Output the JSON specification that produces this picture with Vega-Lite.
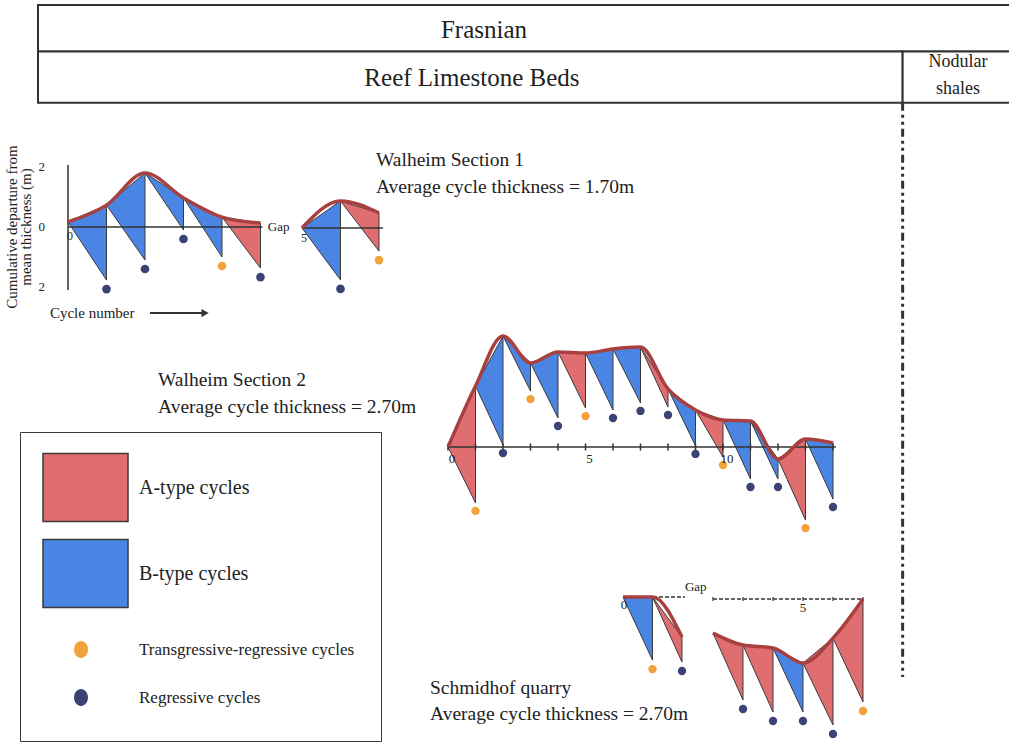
{
  "$schema": "https://vega.github.io/schema/vega-lite/v6.json",
  "width": 1009,
  "height": 745,
  "autosize": "none",
  "padding": 0,
  "background": "white",
  "config": {
    "view": {"stroke": null},
    "font": "Liberation Serif",
    "text": {"font": "Liberation Serif", "color": "#222"}
  },
  "datasets": {
    "header": [
      {"unit": "Frasnian", "label": "Frasnian", "x0": 0, "x1": 100, "y0": 0, "y1": 1, "lx": 45.65, "ly": 0.54},
      {"unit": "Reef Limestone Beds", "label": "Reef Limestone Beds", "x0": 0, "x1": 88.5, "y0": 1, "y1": 2.1, "lx": 44.42, "ly": 1.57},
      {"unit": "Nodular shales", "label": "Nodular\nshales", "x0": 88.5, "x1": 100, "y0": 1, "y1": 2.1, "lx": 94.17, "ly": 1.226}
    ],
    "boundary": [{"x": 88.5, "y0": 2.1, "y1": 14.45}],
    "tri": [
      {"sec": "W1a", "id": "W1a-1", "c": 0, "hi": 0.17, "lo": 0.17, "kind": "B-type cycles"},
      {"sec": "W1a", "id": "W1a-1", "c": 1, "hi": 0.73, "lo": -1.77, "kind": "B-type cycles"},
      {"sec": "W1a", "id": "W1a-2", "c": 1, "hi": 0.73, "lo": 0.73, "kind": "B-type cycles"},
      {"sec": "W1a", "id": "W1a-2", "c": 2, "hi": 1.8, "lo": -1.1, "kind": "B-type cycles"},
      {"sec": "W1a", "id": "W1a-3", "c": 2, "hi": 1.8, "lo": 1.8, "kind": "B-type cycles"},
      {"sec": "W1a", "id": "W1a-3", "c": 3, "hi": 0.97, "lo": -0.1, "kind": "B-type cycles"},
      {"sec": "W1a", "id": "W1a-4", "c": 3, "hi": 0.97, "lo": 0.97, "kind": "B-type cycles"},
      {"sec": "W1a", "id": "W1a-4", "c": 4, "hi": 0.33, "lo": -1.0, "kind": "B-type cycles"},
      {"sec": "W1a", "id": "W1a-5", "c": 4, "hi": 0.33, "lo": 0.33, "kind": "A-type cycles"},
      {"sec": "W1a", "id": "W1a-5", "c": 5, "hi": 0.13, "lo": -1.37, "kind": "A-type cycles"},
      {"sec": "W1b", "id": "W1b-6", "c": 5, "hi": 0, "lo": 0, "kind": "B-type cycles"},
      {"sec": "W1b", "id": "W1b-6", "c": 6, "hi": 0.9, "lo": -1.73, "kind": "B-type cycles"},
      {"sec": "W1b", "id": "W1b-7", "c": 6, "hi": 0.9, "lo": 0.9, "kind": "A-type cycles"},
      {"sec": "W1b", "id": "W1b-7", "c": 7, "hi": 0.5, "lo": -0.77, "kind": "A-type cycles"},
      {"sec": "W2", "id": "W2-1", "c": 0, "hi": 0, "lo": 0, "kind": "A-type cycles"},
      {"sec": "W2", "id": "W2-1", "c": 1, "hi": 2.84, "lo": -2.6, "kind": "A-type cycles"},
      {"sec": "W2", "id": "W2-2", "c": 1, "hi": 2.84, "lo": 2.84, "kind": "B-type cycles"},
      {"sec": "W2", "id": "W2-2", "c": 2, "hi": 5.16, "lo": 0.09, "kind": "B-type cycles"},
      {"sec": "W2", "id": "W2-3", "c": 2, "hi": 5.16, "lo": 5.16, "kind": "B-type cycles"},
      {"sec": "W2", "id": "W2-3", "c": 3, "hi": 3.91, "lo": 2.6, "kind": "B-type cycles"},
      {"sec": "W2", "id": "W2-4", "c": 3, "hi": 3.91, "lo": 3.91, "kind": "B-type cycles"},
      {"sec": "W2", "id": "W2-4", "c": 4, "hi": 4.42, "lo": 1.35, "kind": "B-type cycles"},
      {"sec": "W2", "id": "W2-5", "c": 4, "hi": 4.42, "lo": 4.42, "kind": "A-type cycles"},
      {"sec": "W2", "id": "W2-5", "c": 5, "hi": 4.37, "lo": 1.81, "kind": "A-type cycles"},
      {"sec": "W2", "id": "W2-6", "c": 5, "hi": 4.37, "lo": 4.37, "kind": "B-type cycles"},
      {"sec": "W2", "id": "W2-6", "c": 6, "hi": 4.56, "lo": 1.72, "kind": "B-type cycles"},
      {"sec": "W2", "id": "W2-7", "c": 6, "hi": 4.56, "lo": 4.56, "kind": "B-type cycles"},
      {"sec": "W2", "id": "W2-7", "c": 7, "hi": 4.65, "lo": 2.05, "kind": "B-type cycles"},
      {"sec": "W2", "id": "W2-8", "c": 7, "hi": 4.65, "lo": 4.65, "kind": "A-type cycles"},
      {"sec": "W2", "id": "W2-8", "c": 8, "hi": 2.7, "lo": 1.86, "kind": "A-type cycles"},
      {"sec": "W2", "id": "W2-9", "c": 8, "hi": 2.7, "lo": 2.7, "kind": "B-type cycles"},
      {"sec": "W2", "id": "W2-9", "c": 9, "hi": 1.72, "lo": 0.05, "kind": "B-type cycles"},
      {"sec": "W2", "id": "W2-10", "c": 9, "hi": 1.72, "lo": 1.72, "kind": "A-type cycles"},
      {"sec": "W2", "id": "W2-10", "c": 10, "hi": 1.26, "lo": -0.47, "kind": "A-type cycles"},
      {"sec": "W2", "id": "W2-11", "c": 10, "hi": 1.26, "lo": 1.26, "kind": "B-type cycles"},
      {"sec": "W2", "id": "W2-11", "c": 11, "hi": 1.21, "lo": -1.49, "kind": "B-type cycles"},
      {"sec": "W2", "id": "W2-12", "c": 11, "hi": 1.21, "lo": 1.21, "kind": "B-type cycles"},
      {"sec": "W2", "id": "W2-12", "c": 12, "hi": -0.56, "lo": -1.49, "kind": "B-type cycles"},
      {"sec": "W2", "id": "W2-13", "c": 12, "hi": -0.56, "lo": -0.56, "kind": "A-type cycles"},
      {"sec": "W2", "id": "W2-13", "c": 13, "hi": 0.37, "lo": -3.4, "kind": "A-type cycles"},
      {"sec": "W2", "id": "W2-14", "c": 13, "hi": 0.37, "lo": 0.37, "kind": "B-type cycles"},
      {"sec": "W2", "id": "W2-14", "c": 14, "hi": 0.19, "lo": -2.42, "kind": "B-type cycles"},
      {"sec": "S3a", "id": "S3a-1", "c": 0, "hi": 0, "lo": 0, "kind": "B-type cycles"},
      {"sec": "S3a", "id": "S3a-1", "c": 1, "hi": 0, "lo": -2.63, "kind": "B-type cycles"},
      {"sec": "S3a", "id": "S3a-2", "c": 1, "hi": 0, "lo": 0, "kind": "A-type cycles"},
      {"sec": "S3a", "id": "S3a-2", "c": 2, "hi": -1.67, "lo": -2.71, "kind": "A-type cycles"},
      {"sec": "S3b", "id": "S3b-3", "c": 2, "hi": -1.42, "lo": -1.42, "kind": "A-type cycles"},
      {"sec": "S3b", "id": "S3b-3", "c": 3, "hi": -1.92, "lo": -4.21, "kind": "A-type cycles"},
      {"sec": "S3b", "id": "S3b-4", "c": 3, "hi": -1.92, "lo": -1.92, "kind": "A-type cycles"},
      {"sec": "S3b", "id": "S3b-4", "c": 4, "hi": -2.04, "lo": -4.71, "kind": "A-type cycles"},
      {"sec": "S3b", "id": "S3b-5", "c": 4, "hi": -2.04, "lo": -2.04, "kind": "B-type cycles"},
      {"sec": "S3b", "id": "S3b-5", "c": 5, "hi": -2.67, "lo": -4.71, "kind": "B-type cycles"},
      {"sec": "S3b", "id": "S3b-6", "c": 5, "hi": -2.67, "lo": -2.67, "kind": "A-type cycles"},
      {"sec": "S3b", "id": "S3b-6", "c": 6, "hi": -1.63, "lo": -5.25, "kind": "A-type cycles"},
      {"sec": "S3b", "id": "S3b-7", "c": 6, "hi": -1.63, "lo": -1.63, "kind": "A-type cycles"},
      {"sec": "S3b", "id": "S3b-7", "c": 7, "hi": 0, "lo": -4.29, "kind": "A-type cycles"}
    ],
    "tops": [
      {"sec": "W1a", "c": 0, "top": 0.17}, {"sec": "W1a", "c": 1, "top": 0.73}, {"sec": "W1a", "c": 2, "top": 1.8},
      {"sec": "W1a", "c": 3, "top": 0.97}, {"sec": "W1a", "c": 4, "top": 0.33}, {"sec": "W1a", "c": 5, "top": 0.13},
      {"sec": "W1b", "c": 5, "top": 0}, {"sec": "W1b", "c": 6, "top": 0.9}, {"sec": "W1b", "c": 7, "top": 0.5},
      {"sec": "W2", "c": 0, "top": 0}, {"sec": "W2", "c": 1, "top": 2.84}, {"sec": "W2", "c": 2, "top": 5.16},
      {"sec": "W2", "c": 3, "top": 3.91}, {"sec": "W2", "c": 4, "top": 4.42}, {"sec": "W2", "c": 5, "top": 4.37},
      {"sec": "W2", "c": 6, "top": 4.56}, {"sec": "W2", "c": 7, "top": 4.65}, {"sec": "W2", "c": 8, "top": 2.7},
      {"sec": "W2", "c": 9, "top": 1.72}, {"sec": "W2", "c": 10, "top": 1.26}, {"sec": "W2", "c": 11, "top": 1.21},
      {"sec": "W2", "c": 12, "top": -0.56}, {"sec": "W2", "c": 13, "top": 0.37}, {"sec": "W2", "c": 14, "top": 0.19},
      {"sec": "S3a", "c": 0, "top": 0}, {"sec": "S3a", "c": 1, "top": 0}, {"sec": "S3a", "c": 2, "top": -1.67},
      {"sec": "S3b", "c": 2, "top": -1.42}, {"sec": "S3b", "c": 3, "top": -1.92}, {"sec": "S3b", "c": 4, "top": -2.04},
      {"sec": "S3b", "c": 5, "top": -2.67}, {"sec": "S3b", "c": 6, "top": -1.63}, {"sec": "S3b", "c": 7, "top": 0}
    ],
    "dots": [
      {"sec": "W1a", "c": 1, "bottom": -1.77, "kind": "Regressive cycles"},
      {"sec": "W1a", "c": 2, "bottom": -1.1, "kind": "Regressive cycles"},
      {"sec": "W1a", "c": 3, "bottom": -0.1, "kind": "Regressive cycles"},
      {"sec": "W1a", "c": 4, "bottom": -1.0, "kind": "Transgressive-regressive cycles"},
      {"sec": "W1a", "c": 5, "bottom": -1.37, "kind": "Regressive cycles"},
      {"sec": "W1b", "c": 6, "bottom": -1.73, "kind": "Regressive cycles"},
      {"sec": "W1b", "c": 7, "bottom": -0.77, "kind": "Transgressive-regressive cycles"},
      {"sec": "W2", "c": 1, "bottom": -2.6, "kind": "Transgressive-regressive cycles"},
      {"sec": "W2", "c": 2, "bottom": 0.09, "kind": "Regressive cycles"},
      {"sec": "W2", "c": 3, "bottom": 2.6, "kind": "Transgressive-regressive cycles"},
      {"sec": "W2", "c": 4, "bottom": 1.35, "kind": "Regressive cycles"},
      {"sec": "W2", "c": 5, "bottom": 1.81, "kind": "Transgressive-regressive cycles"},
      {"sec": "W2", "c": 6, "bottom": 1.72, "kind": "Regressive cycles"},
      {"sec": "W2", "c": 7, "bottom": 2.05, "kind": "Regressive cycles"},
      {"sec": "W2", "c": 8, "bottom": 1.86, "kind": "Regressive cycles"},
      {"sec": "W2", "c": 9, "bottom": 0.05, "kind": "Regressive cycles"},
      {"sec": "W2", "c": 10, "bottom": -0.47, "kind": "Transgressive-regressive cycles"},
      {"sec": "W2", "c": 11, "bottom": -1.49, "kind": "Regressive cycles"},
      {"sec": "W2", "c": 12, "bottom": -1.49, "kind": "Regressive cycles"},
      {"sec": "W2", "c": 13, "bottom": -3.4, "kind": "Transgressive-regressive cycles"},
      {"sec": "W2", "c": 14, "bottom": -2.42, "kind": "Regressive cycles"},
      {"sec": "S3a", "c": 1, "bottom": -2.63, "kind": "Transgressive-regressive cycles"},
      {"sec": "S3a", "c": 2, "bottom": -2.71, "kind": "Regressive cycles"},
      {"sec": "S3b", "c": 3, "bottom": -4.21, "kind": "Regressive cycles"},
      {"sec": "S3b", "c": 4, "bottom": -4.71, "kind": "Regressive cycles"},
      {"sec": "S3b", "c": 5, "bottom": -4.71, "kind": "Regressive cycles"},
      {"sec": "S3b", "c": 6, "bottom": -5.25, "kind": "Regressive cycles"},
      {"sec": "S3b", "c": 7, "bottom": -4.29, "kind": "Transgressive-regressive cycles"}
    ],
    "axlines": [
      {"sec": "W1a", "c": 0, "c2": 5.05, "m": 0, "m2": 0},
      {"sec": "W1a", "c": 0, "c2": 0, "m": -2.1, "m2": 2.07},
      {"sec": "W1b", "c": 5, "c2": 7.1, "m": 0, "m2": 0},
      {"sec": "W2", "c": 0, "c2": 14.1, "m": 0, "m2": 0},
      {"sec": "S3a", "c": 0, "c2": 2.1, "m": 0, "m2": 0},
      {"sec": "S3b", "c": 2, "c2": 7, "m": 0, "m2": 0}
    ],
    "ticklabels": [
      {"sec": "W1a", "c": 0, "m": 0, "label": "0"},
      {"sec": "W1b", "c": 5, "m": 0, "label": "5"},
      {"sec": "W2", "c": 0, "m": 0, "label": "0"},
      {"sec": "W2", "c": 5, "m": 0, "label": "5"},
      {"sec": "W2", "c": 10, "m": 0, "label": "10"},
      {"sec": "S3a", "c": 0, "m": 0, "label": "0"},
      {"sec": "S3b", "c": 5, "m": 0, "label": "5"}
    ],
    "notes": [
      {"sec": "W1a", "role": "title", "c": 8.0, "m": 2.233, "label": "Walheim Section 1"},
      {"sec": "W1a", "role": "title", "c": 8.0, "m": 1.333, "label": "Average cycle thickness = 1.70m"},
      {"sec": "W1a", "role": "gap", "c": 5.19, "m": 0, "label": "Gap"},
      {"sec": "W1a", "role": "tick", "c": -0.766, "m": 2, "label": "2"},
      {"sec": "W1a", "role": "tick", "c": -0.766, "m": 0, "label": "0"},
      {"sec": "W1a", "role": "tick", "c": -0.766, "m": -2, "label": "2"},
      {"sec": "W1a", "role": "axis", "c": -0.47, "m": -2.87, "label": "Cycle number"},
      {"sec": "W1a", "role": "ytitle", "c": -1.455, "m": 0, "label": "Cumulative departure from\nmean thickness (m)"},
      {"sec": "W2", "role": "title", "c": -10.545, "m": 3.116, "label": "Walheim Section 2"},
      {"sec": "W2", "role": "title", "c": -10.545, "m": 1.86, "label": "Average cycle thickness = 2.70m"},
      {"sec": "S3a", "role": "gap", "c": 2.1, "m": 0.42, "label": "Gap"},
      {"sec": "S3b", "role": "title", "c": -7.433, "m": -3.708, "label": "Schmidhof quarry"},
      {"sec": "S3b", "role": "title", "c": -7.433, "m": -4.792, "label": "Average cycle thickness = 2.70m"}
    ],
    "arrow": [{"sec": "W1a", "c": 2.13, "c2": 3.56, "m": -2.87}]
  },
  "layer": [
    {
      "layer": [
        {
          "data": {"name": "header"},
          "mark": {"type": "rect", "fill": "white", "stroke": "#333", "strokeWidth": 2},
          "encoding": {
            "x": {"field": "x0", "type": "quantitative", "scale": {"domain": [-3.889, 99.386], "nice": false, "zero": false}, "axis": null},
            "x2": {"field": "x1"},
            "y": {"field": "y0", "type": "quantitative", "scale": {"domain": [-0.1075, 15.914], "reverse": true, "nice": false, "zero": false}, "axis": null},
            "y2": {"field": "y1"}
          }
        },
        {
          "data": {"name": "header"},
          "mark": {"type": "text", "lineBreak": "\n", "lineHeight": 27, "baseline": "middle", "align": "center", "color": "#222"},
          "encoding": {
            "x": {"field": "lx", "type": "quantitative", "scale": {"domain": [-3.889, 99.386], "nice": false, "zero": false}, "axis": null},
            "y": {"field": "ly", "type": "quantitative", "scale": {"domain": [-0.1075, 15.914], "reverse": true, "nice": false, "zero": false}, "axis": null},
            "text": {"field": "label"},
            "size": {"condition": {"test": "datum.unit == 'Nodular shales'", "value": 18}, "value": 25}
          }
        },
        {
          "data": {"name": "boundary"},
          "mark": {"type": "rule", "color": "#333", "strokeWidth": 3, "strokeDash": [8, 4, 3, 4, 3, 4]},
          "encoding": {
            "x": {"field": "x", "type": "quantitative", "scale": {"domain": [-3.889, 99.386], "nice": false, "zero": false}, "axis": null},
            "y": {"field": "y0", "type": "quantitative", "scale": {"domain": [-0.1075, 15.914], "reverse": true, "nice": false, "zero": false}, "axis": null},
            "y2": {"field": "y1"}
          }
        }
      ]
    },
    {
      "layer": [
        {
          "data": {"name": "tri"},
          "transform": [{"filter": "datum.sec == 'W1a'"}],
          "mark": {"type": "area", "opacity": 1},
          "encoding": {
            "x": {"field": "c", "type": "quantitative", "scale": {"domain": [-1.766, 24.442], "nice": false, "zero": false}, "axis": null},
            "y": {"field": "hi", "type": "quantitative", "scale": {"domain": [-17.267, 7.567], "nice": false, "zero": false}, "axis": null},
            "y2": {"field": "lo"},
            "detail": {"field": "id"},
            "color": {
              "field": "kind", "type": "nominal",
              "scale": {"domain": ["A-type cycles", "B-type cycles", "Transgressive-regressive cycles", "Regressive cycles"], "range": ["#e06e70", "#4a85e4", "#f2a23a", "#3b4274"]},
              "legend": {
                "title": null, "orient": "none", "legendX": 20, "legendY": 432, "direction": "vertical",
                "padding": 22, "rowPadding": 2, "symbolSize": 4225, "labelOffset": 30, "labelLimit": 400,
                "labelFont": "Liberation Serif", "labelColor": "#222",
                "labelFontSize": {"expr": "datum.value == 'A-type cycles' || datum.value == 'B-type cycles' ? 20 : 17"},
                "strokeColor": "#3a3a3a", "fillColor": "white",
                "symbolType": {"expr": "datum.value == 'A-type cycles' ? 'M-1,-1.046H1.6154V1.046H-1ZM0,1.338' : datum.value == 'B-type cycles' ? 'M-1,-1.046H1.6154V1.046H-1ZM0,1.138' : datum.value == 'Regressive cycles' ? 'M0.384,0A0.215,0.2615,0,1,1,-0.046,0A0.215,0.2615,0,1,1,0.384,0ZM0,0.554M8.63,0' : 'M0.384,0A0.215,0.2615,0,1,1,-0.046,0A0.215,0.2615,0,1,1,0.384,0ZM0,0.292'"},
                "symbolStrokeColor": {"expr": "datum.value == 'A-type cycles' || datum.value == 'B-type cycles' ? '#3a3a3a' : 'transparent'"},
                "symbolStrokeWidth": 1.5, "symbolOpacity": 1
              }
            }
          }
        },
        {
          "data": {"name": "tri"},
          "transform": [{"filter": "datum.sec == 'W1a'"}],
          "mark": {"type": "area", "fillOpacity": 0, "stroke": "#3a3a3a", "strokeWidth": 1},
          "encoding": {
            "x": {"field": "c", "type": "quantitative", "scale": {"domain": [-1.766, 24.442], "nice": false, "zero": false}, "axis": null},
            "y": {"field": "hi", "type": "quantitative", "scale": {"domain": [-17.267, 7.567], "nice": false, "zero": false}, "axis": null},
            "y2": {"field": "lo"},
            "detail": {"field": "id"}
          }
        },
        {
          "data": {"name": "axlines"},
          "transform": [{"filter": "datum.sec == 'W1a'"}],
          "mark": {"type": "rule", "color": "#333", "strokeWidth": 1.5},
          "encoding": {
            "x": {"field": "c", "type": "quantitative", "scale": {"domain": [-1.766, 24.442], "nice": false, "zero": false}, "axis": null},
            "x2": {"field": "c2"},
            "y": {"field": "m", "type": "quantitative", "scale": {"domain": [-17.267, 7.567], "nice": false, "zero": false}, "axis": null},
            "y2": {"field": "m2"}
          }
        },
        {
          "data": {"name": "tops"},
          "transform": [{"filter": "datum.sec == 'W1a'"}],
          "mark": {"type": "line", "color": "#a8403f", "strokeWidth": 3.5, "interpolate": "monotone"},
          "encoding": {
            "x": {"field": "c", "type": "quantitative", "scale": {"domain": [-1.766, 24.442], "nice": false, "zero": false}, "axis": null},
            "y": {"field": "top", "type": "quantitative", "scale": {"domain": [-17.267, 7.567], "nice": false, "zero": false}, "axis": null}
          }
        },
        {
          "data": {"name": "dots"},
          "transform": [{"filter": "datum.sec == 'W1a'"}],
          "mark": {"type": "point", "filled": true, "size": 75, "opacity": 1, "yOffset": 9},
          "encoding": {
            "x": {"field": "c", "type": "quantitative", "scale": {"domain": [-1.766, 24.442], "nice": false, "zero": false}, "axis": null},
            "y": {"field": "bottom", "type": "quantitative", "scale": {"domain": [-17.267, 7.567], "nice": false, "zero": false}, "axis": null},
            "color": {"field": "kind", "type": "nominal", "scale": {"domain": ["A-type cycles", "B-type cycles", "Transgressive-regressive cycles", "Regressive cycles"], "range": ["#e06e70", "#4a85e4", "#f2a23a", "#3b4274"]}, "legend": null}
          }
        },
        {
          "data": {"name": "notes"},
          "transform": [{"filter": "datum.sec == 'W1a' && datum.role != 'ytitle'"}],
          "mark": {"type": "text", "align": "left", "baseline": "middle", "color": "#222"},
          "encoding": {
            "x": {"field": "c", "type": "quantitative", "scale": {"domain": [-1.766, 24.442], "nice": false, "zero": false}, "axis": null},
            "y": {"field": "m", "type": "quantitative", "scale": {"domain": [-17.267, 7.567], "nice": false, "zero": false}, "axis": null},
            "text": {"field": "label"},
            "size": {"condition": [{"test": "datum.role == 'gap' || datum.role == 'tick'", "value": 13}, {"test": "datum.role == 'axis'", "value": 15}], "value": 19.5}
          }
        },
        {
          "data": {"name": "notes"},
          "transform": [{"filter": "datum.sec == 'W1a' && datum.role == 'ytitle'"}],
          "mark": {"type": "text", "align": "center", "baseline": "middle", "angle": 270, "lineBreak": "\n", "lineHeight": 14, "fontSize": 15, "color": "#222"},
          "encoding": {
            "x": {"field": "c", "type": "quantitative", "scale": {"domain": [-1.766, 24.442], "nice": false, "zero": false}, "axis": null},
            "y": {"field": "m", "type": "quantitative", "scale": {"domain": [-17.267, 7.567], "nice": false, "zero": false}, "axis": null},
            "text": {"field": "label"}
          }
        },
        {
          "data": {"name": "ticklabels"},
          "transform": [{"filter": "datum.sec == 'W1a'"}],
          "mark": {"type": "text", "align": "center", "baseline": "top", "dy": 4, "dx": 2, "fontSize": 12, "color": "#222"},
          "encoding": {
            "x": {"field": "c", "type": "quantitative", "scale": {"domain": [-1.766, 24.442], "nice": false, "zero": false}, "axis": null},
            "y": {"field": "m", "type": "quantitative", "scale": {"domain": [-17.267, 7.567], "nice": false, "zero": false}, "axis": null},
            "text": {"field": "label"}
          }
        },
        {
          "data": {"name": "arrow"},
          "mark": {"type": "rule", "color": "#333", "strokeWidth": 2},
          "encoding": {
            "x": {"field": "c", "type": "quantitative", "scale": {"domain": [-1.766, 24.442], "nice": false, "zero": false}, "axis": null},
            "x2": {"field": "c2"},
            "y": {"field": "m", "type": "quantitative", "scale": {"domain": [-17.267, 7.567], "nice": false, "zero": false}, "axis": null}
          }
        },
        {
          "data": {"name": "arrow"},
          "mark": {"type": "point", "shape": "triangle-right", "filled": true, "size": 70, "color": "#333", "opacity": 1},
          "encoding": {
            "x": {"field": "c2", "type": "quantitative", "scale": {"domain": [-1.766, 24.442], "nice": false, "zero": false}, "axis": null},
            "y": {"field": "m", "type": "quantitative", "scale": {"domain": [-17.267, 7.567], "nice": false, "zero": false}, "axis": null}
          }
        }
      ]
    },
    {
      "layer": [
        {
          "data": {"name": "tri"},
          "transform": [{"filter": "datum.sec == 'W1b'"}],
          "mark": {"type": "area", "stroke": "#3a3a3a", "strokeWidth": 1, "opacity": 1},
          "encoding": {
            "x": {"field": "c", "type": "quantitative", "scale": {"domain": [-2.844, 23.364], "nice": false, "zero": false}, "axis": null},
            "y": {"field": "hi", "type": "quantitative", "scale": {"domain": [-17.233, 7.6], "nice": false, "zero": false}, "axis": null},
            "y2": {"field": "lo"},
            "detail": {"field": "id"},
            "color": {"field": "kind", "type": "nominal", "scale": {"domain": ["A-type cycles", "B-type cycles", "Transgressive-regressive cycles", "Regressive cycles"], "range": ["#e06e70", "#4a85e4", "#f2a23a", "#3b4274"]}, "legend": null}
          }
        },
        {
          "data": {"name": "axlines"},
          "transform": [{"filter": "datum.sec == 'W1b'"}],
          "mark": {"type": "rule", "color": "#333", "strokeWidth": 1.5},
          "encoding": {
            "x": {"field": "c", "type": "quantitative", "scale": {"domain": [-2.844, 23.364], "nice": false, "zero": false}, "axis": null},
            "x2": {"field": "c2"},
            "y": {"field": "m", "type": "quantitative", "scale": {"domain": [-17.233, 7.6], "nice": false, "zero": false}, "axis": null},
            "y2": {"field": "m2"}
          }
        },
        {
          "data": {"name": "tops"},
          "transform": [{"filter": "datum.sec == 'W1b'"}],
          "mark": {"type": "line", "color": "#a8403f", "strokeWidth": 3.5, "interpolate": "monotone"},
          "encoding": {
            "x": {"field": "c", "type": "quantitative", "scale": {"domain": [-2.844, 23.364], "nice": false, "zero": false}, "axis": null},
            "y": {"field": "top", "type": "quantitative", "scale": {"domain": [-17.233, 7.6], "nice": false, "zero": false}, "axis": null}
          }
        },
        {
          "data": {"name": "dots"},
          "transform": [{"filter": "datum.sec == 'W1b'"}],
          "mark": {"type": "point", "filled": true, "size": 75, "opacity": 1, "yOffset": 9},
          "encoding": {
            "x": {"field": "c", "type": "quantitative", "scale": {"domain": [-2.844, 23.364], "nice": false, "zero": false}, "axis": null},
            "y": {"field": "bottom", "type": "quantitative", "scale": {"domain": [-17.233, 7.6], "nice": false, "zero": false}, "axis": null},
            "color": {"field": "kind", "type": "nominal", "scale": {"domain": ["A-type cycles", "B-type cycles", "Transgressive-regressive cycles", "Regressive cycles"], "range": ["#e06e70", "#4a85e4", "#f2a23a", "#3b4274"]}, "legend": null}
          }
        },
        {
          "data": {"name": "ticklabels"},
          "transform": [{"filter": "datum.sec == 'W1b'"}],
          "mark": {"type": "text", "align": "center", "baseline": "top", "dy": 5, "dx": 2, "fontSize": 12, "color": "#222"},
          "encoding": {
            "x": {"field": "c", "type": "quantitative", "scale": {"domain": [-2.844, 23.364], "nice": false, "zero": false}, "axis": null},
            "y": {"field": "m", "type": "quantitative", "scale": {"domain": [-17.233, 7.6], "nice": false, "zero": false}, "axis": null},
            "text": {"field": "label"}
          }
        }
      ]
    },
    {
      "layer": [
        {
          "data": {"name": "tri"},
          "transform": [{"filter": "datum.sec == 'W2'"}],
          "mark": {"type": "area", "stroke": "#3a3a3a", "strokeWidth": 1, "opacity": 1},
          "encoding": {
            "x": {"field": "c", "type": "quantitative", "scale": {"domain": [-16.291, 20.4], "nice": false, "zero": false}, "axis": null},
            "y": {"field": "hi", "type": "quantitative", "scale": {"domain": [-13.86, 20.791], "nice": false, "zero": false}, "axis": null},
            "y2": {"field": "lo"},
            "detail": {"field": "id"},
            "color": {"field": "kind", "type": "nominal", "scale": {"domain": ["A-type cycles", "B-type cycles", "Transgressive-regressive cycles", "Regressive cycles"], "range": ["#e06e70", "#4a85e4", "#f2a23a", "#3b4274"]}, "legend": null}
          }
        },
        {
          "data": {"name": "axlines"},
          "transform": [{"filter": "datum.sec == 'W2'"}],
          "mark": {"type": "rule", "color": "#333", "strokeWidth": 1.5},
          "encoding": {
            "x": {"field": "c", "type": "quantitative", "scale": {"domain": [-16.291, 20.4], "nice": false, "zero": false}, "axis": null},
            "x2": {"field": "c2"},
            "y": {"field": "m", "type": "quantitative", "scale": {"domain": [-13.86, 20.791], "nice": false, "zero": false}, "axis": null},
            "y2": {"field": "m2"}
          }
        },
        {
          "data": {"name": "tops"},
          "transform": [{"filter": "datum.sec == 'W2'"}],
          "mark": {"type": "tick", "orient": "vertical", "size": 7, "thickness": 1.5, "color": "#333", "opacity": 1},
          "encoding": {
            "x": {"field": "c", "type": "quantitative", "scale": {"domain": [-16.291, 20.4], "nice": false, "zero": false}, "axis": null},
            "y": {"datum": 0, "type": "quantitative", "scale": {"domain": [-13.86, 20.791], "nice": false, "zero": false}, "axis": null}
          }
        },
        {
          "data": {"name": "tops"},
          "transform": [{"filter": "datum.sec == 'W2'"}],
          "mark": {"type": "line", "color": "#a8403f", "strokeWidth": 3.5, "interpolate": "monotone"},
          "encoding": {
            "x": {"field": "c", "type": "quantitative", "scale": {"domain": [-16.291, 20.4], "nice": false, "zero": false}, "axis": null},
            "y": {"field": "top", "type": "quantitative", "scale": {"domain": [-13.86, 20.791], "nice": false, "zero": false}, "axis": null}
          }
        },
        {
          "data": {"name": "dots"},
          "transform": [{"filter": "datum.sec == 'W2'"}],
          "mark": {"type": "point", "filled": true, "size": 70, "opacity": 1, "yOffset": 8},
          "encoding": {
            "x": {"field": "c", "type": "quantitative", "scale": {"domain": [-16.291, 20.4], "nice": false, "zero": false}, "axis": null},
            "y": {"field": "bottom", "type": "quantitative", "scale": {"domain": [-13.86, 20.791], "nice": false, "zero": false}, "axis": null},
            "color": {"field": "kind", "type": "nominal", "scale": {"domain": ["A-type cycles", "B-type cycles", "Transgressive-regressive cycles", "Regressive cycles"], "range": ["#e06e70", "#4a85e4", "#f2a23a", "#3b4274"]}, "legend": null}
          }
        },
        {
          "data": {"name": "notes"},
          "transform": [{"filter": "datum.sec == 'W2'"}],
          "mark": {"type": "text", "align": "left", "baseline": "middle", "color": "#222", "fontSize": 19.5},
          "encoding": {
            "x": {"field": "c", "type": "quantitative", "scale": {"domain": [-16.291, 20.4], "nice": false, "zero": false}, "axis": null},
            "y": {"field": "m", "type": "quantitative", "scale": {"domain": [-13.86, 20.791], "nice": false, "zero": false}, "axis": null},
            "text": {"field": "label"}
          }
        },
        {
          "data": {"name": "ticklabels"},
          "transform": [{"filter": "datum.sec == 'W2'"}],
          "mark": {"type": "text", "align": "center", "baseline": "top", "dy": 6, "dx": 4, "fontSize": 13, "color": "#222"},
          "encoding": {
            "x": {"field": "c", "type": "quantitative", "scale": {"domain": [-16.291, 20.4], "nice": false, "zero": false}, "axis": null},
            "y": {"field": "m", "type": "quantitative", "scale": {"domain": [-13.86, 20.791], "nice": false, "zero": false}, "axis": null},
            "text": {"field": "label"}
          }
        }
      ]
    },
    {
      "layer": [
        {
          "data": {"name": "tri"},
          "transform": [{"filter": "datum.sec == 'S3a'"}],
          "mark": {"type": "area", "stroke": "#3a3a3a", "strokeWidth": 1, "opacity": 1},
          "encoding": {
            "x": {"field": "c", "type": "quantitative", "scale": {"domain": [-21.119, 13.085], "nice": false, "zero": false}, "axis": null},
            "y": {"field": "hi", "type": "quantitative", "scale": {"domain": [-6.167, 24.875], "nice": false, "zero": false}, "axis": null},
            "y2": {"field": "lo"},
            "detail": {"field": "id"},
            "color": {"field": "kind", "type": "nominal", "scale": {"domain": ["A-type cycles", "B-type cycles", "Transgressive-regressive cycles", "Regressive cycles"], "range": ["#e06e70", "#4a85e4", "#f2a23a", "#3b4274"]}, "legend": null}
          }
        },
        {
          "data": {"name": "axlines"},
          "transform": [{"filter": "datum.sec == 'S3a'"}],
          "mark": {"type": "rule", "color": "#333", "strokeWidth": 1.5, "strokeDash": [4, 2]},
          "encoding": {
            "x": {"field": "c", "type": "quantitative", "scale": {"domain": [-21.119, 13.085], "nice": false, "zero": false}, "axis": null},
            "x2": {"field": "c2"},
            "y": {"field": "m", "type": "quantitative", "scale": {"domain": [-6.167, 24.875], "nice": false, "zero": false}, "axis": null},
            "y2": {"field": "m2"}
          }
        },
        {
          "data": {"name": "tops"},
          "transform": [{"filter": "datum.sec == 'S3a'"}],
          "mark": {"type": "line", "color": "#a8403f", "strokeWidth": 3.5, "interpolate": "monotone"},
          "encoding": {
            "x": {"field": "c", "type": "quantitative", "scale": {"domain": [-21.119, 13.085], "nice": false, "zero": false}, "axis": null},
            "y": {"field": "top", "type": "quantitative", "scale": {"domain": [-6.167, 24.875], "nice": false, "zero": false}, "axis": null}
          }
        },
        {
          "data": {"name": "dots"},
          "transform": [{"filter": "datum.sec == 'S3a'"}],
          "mark": {"type": "point", "filled": true, "size": 70, "opacity": 1, "yOffset": 9},
          "encoding": {
            "x": {"field": "c", "type": "quantitative", "scale": {"domain": [-21.119, 13.085], "nice": false, "zero": false}, "axis": null},
            "y": {"field": "bottom", "type": "quantitative", "scale": {"domain": [-6.167, 24.875], "nice": false, "zero": false}, "axis": null},
            "color": {"field": "kind", "type": "nominal", "scale": {"domain": ["A-type cycles", "B-type cycles", "Transgressive-regressive cycles", "Regressive cycles"], "range": ["#e06e70", "#4a85e4", "#f2a23a", "#3b4274"]}, "legend": null}
          }
        },
        {
          "data": {"name": "notes"},
          "transform": [{"filter": "datum.sec == 'S3a'"}],
          "mark": {"type": "text", "align": "left", "baseline": "middle", "color": "#222", "fontSize": 13},
          "encoding": {
            "x": {"field": "c", "type": "quantitative", "scale": {"domain": [-21.119, 13.085], "nice": false, "zero": false}, "axis": null},
            "y": {"field": "m", "type": "quantitative", "scale": {"domain": [-6.167, 24.875], "nice": false, "zero": false}, "axis": null},
            "text": {"field": "label"}
          }
        },
        {
          "data": {"name": "ticklabels"},
          "transform": [{"filter": "datum.sec == 'S3a'"}],
          "mark": {"type": "text", "align": "center", "baseline": "top", "dy": 2, "dx": 1, "fontSize": 13, "color": "#222"},
          "encoding": {
            "x": {"field": "c", "type": "quantitative", "scale": {"domain": [-21.119, 13.085], "nice": false, "zero": false}, "axis": null},
            "y": {"field": "m", "type": "quantitative", "scale": {"domain": [-6.167, 24.875], "nice": false, "zero": false}, "axis": null},
            "text": {"field": "label"}
          }
        }
      ]
    },
    {
      "layer": [
        {
          "data": {"name": "tri"},
          "transform": [{"filter": "datum.sec == 'S3b'"}],
          "mark": {"type": "area", "stroke": "#3a3a3a", "strokeWidth": 1, "opacity": 1},
          "encoding": {
            "x": {"field": "c", "type": "quantitative", "scale": {"domain": [-21.767, 11.867], "nice": false, "zero": false}, "axis": null},
            "y": {"field": "hi", "type": "quantitative", "scale": {"domain": [-6.083, 24.958], "nice": false, "zero": false}, "axis": null},
            "y2": {"field": "lo"},
            "detail": {"field": "id"},
            "color": {"field": "kind", "type": "nominal", "scale": {"domain": ["A-type cycles", "B-type cycles", "Transgressive-regressive cycles", "Regressive cycles"], "range": ["#e06e70", "#4a85e4", "#f2a23a", "#3b4274"]}, "legend": null}
          }
        },
        {
          "data": {"name": "axlines"},
          "transform": [{"filter": "datum.sec == 'S3b'"}],
          "mark": {"type": "rule", "color": "#333", "strokeWidth": 1.5, "strokeDash": [4, 2]},
          "encoding": {
            "x": {"field": "c", "type": "quantitative", "scale": {"domain": [-21.767, 11.867], "nice": false, "zero": false}, "axis": null},
            "x2": {"field": "c2"},
            "y": {"field": "m", "type": "quantitative", "scale": {"domain": [-6.083, 24.958], "nice": false, "zero": false}, "axis": null},
            "y2": {"field": "m2"}
          }
        },
        {
          "data": {"name": "tops"},
          "transform": [{"filter": "datum.sec == 'S3b'"}],
          "mark": {"type": "tick", "orient": "vertical", "size": 4, "thickness": 1.5, "color": "#555", "opacity": 1},
          "encoding": {
            "x": {"field": "c", "type": "quantitative", "scale": {"domain": [-21.767, 11.867], "nice": false, "zero": false}, "axis": null},
            "y": {"datum": 0, "type": "quantitative", "scale": {"domain": [-6.083, 24.958], "nice": false, "zero": false}, "axis": null}
          }
        },
        {
          "data": {"name": "tops"},
          "transform": [{"filter": "datum.sec == 'S3b'"}],
          "mark": {"type": "line", "color": "#a8403f", "strokeWidth": 3.5, "interpolate": "monotone"},
          "encoding": {
            "x": {"field": "c", "type": "quantitative", "scale": {"domain": [-21.767, 11.867], "nice": false, "zero": false}, "axis": null},
            "y": {"field": "top", "type": "quantitative", "scale": {"domain": [-6.083, 24.958], "nice": false, "zero": false}, "axis": null}
          }
        },
        {
          "data": {"name": "dots"},
          "transform": [{"filter": "datum.sec == 'S3b'"}],
          "mark": {"type": "point", "filled": true, "size": 70, "opacity": 1, "yOffset": 9},
          "encoding": {
            "x": {"field": "c", "type": "quantitative", "scale": {"domain": [-21.767, 11.867], "nice": false, "zero": false}, "axis": null},
            "y": {"field": "bottom", "type": "quantitative", "scale": {"domain": [-6.083, 24.958], "nice": false, "zero": false}, "axis": null},
            "color": {"field": "kind", "type": "nominal", "scale": {"domain": ["A-type cycles", "B-type cycles", "Transgressive-regressive cycles", "Regressive cycles"], "range": ["#e06e70", "#4a85e4", "#f2a23a", "#3b4274"]}, "legend": null}
          }
        },
        {
          "data": {"name": "notes"},
          "transform": [{"filter": "datum.sec == 'S3b'"}],
          "mark": {"type": "text", "align": "left", "baseline": "middle", "color": "#222", "fontSize": 19.5},
          "encoding": {
            "x": {"field": "c", "type": "quantitative", "scale": {"domain": [-21.767, 11.867], "nice": false, "zero": false}, "axis": null},
            "y": {"field": "m", "type": "quantitative", "scale": {"domain": [-6.083, 24.958], "nice": false, "zero": false}, "axis": null},
            "text": {"field": "label"}
          }
        },
        {
          "data": {"name": "ticklabels"},
          "transform": [{"filter": "datum.sec == 'S3b'"}],
          "mark": {"type": "text", "align": "center", "baseline": "top", "dy": 3, "dx": 0, "fontSize": 13, "color": "#222"},
          "encoding": {
            "x": {"field": "c", "type": "quantitative", "scale": {"domain": [-21.767, 11.867], "nice": false, "zero": false}, "axis": null},
            "y": {"field": "m", "type": "quantitative", "scale": {"domain": [-6.083, 24.958], "nice": false, "zero": false}, "axis": null},
            "text": {"field": "label"}
          }
        }
      ]
    }
  ],
  "resolve": {"scale": {"x": "independent", "y": "independent"}}
}
